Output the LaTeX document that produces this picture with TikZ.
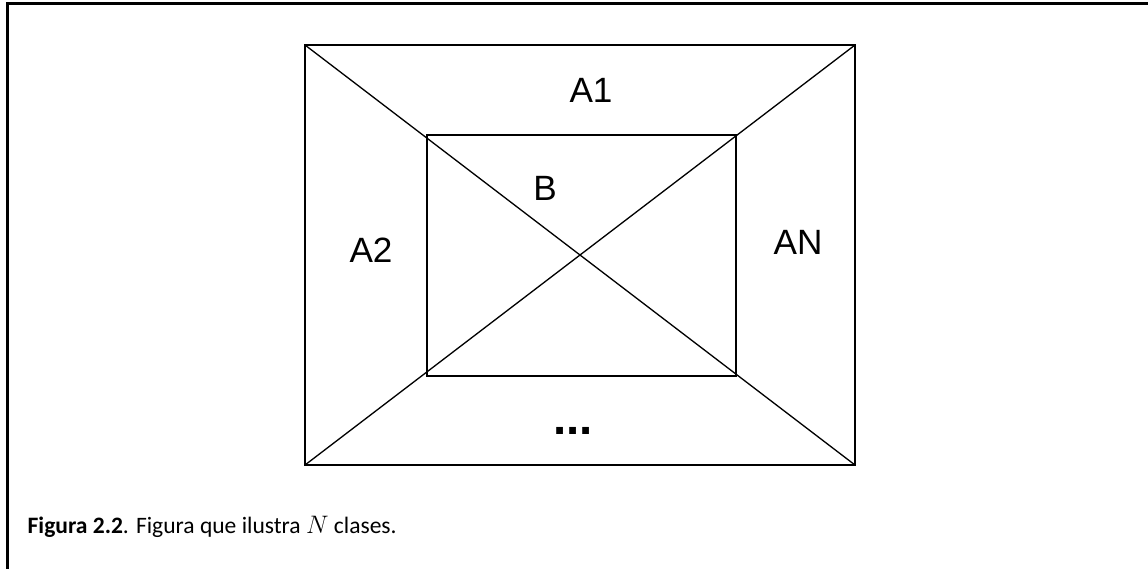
\documentclass[tikz,border=0pt]{standalone}
\usepackage{fontspec}
\setmainfont{Carlito}
\newfontfamily\arialfont{Liberation Sans}
\usetikzlibrary{positioning}

\begin{document}
\begin{tikzpicture}[x=0.02cm,y=-0.02cm,
  every node/.style={font=\arialfont\fontsize{20}{23}\selectfont,inner sep=0pt},
  line width=0.75pt]
  \useasboundingbox (0,0) rectangle (1148,569);
  % frame (only top and left show)
  \draw[line width=1.2pt] (1148,3.5) -- (7.5,3.5) -- (7.5,569);
  % outer and inner boxes
  \coordinate (oNW) at (305,45);
  \coordinate (oSE) at (855,465);
  \coordinate (oNE) at (855,45);
  \coordinate (oSW) at (305,465);
  \coordinate (iNW) at (427,135);
  \coordinate (iSE) at (736,376);
  \draw (oNW) rectangle (oSE);
  \draw (iNW) rectangle (iSE);
  \draw (oNW) -- (oSE);
  \draw (oNE) -- (oSW);
  % region labels
  \node (aone) at (591,90) {A1};
  \node (bee) at (545,188) {B};
  \node (atwo) at (371,250) {A2};
  \node (aenn) at (798,242) {AN};
  \node[font=\arialfont\bfseries\fontsize{27}{29}\selectfont] (dots) at (573,431) {...};
  % caption
  \node[anchor=west,font=\fontsize{13.4}{16}\selectfont] (capt) at (27,527)
    {\textbf{Figura 2.2}. Figura que ilustra $N$ clases.};
\end{tikzpicture}
\end{document}
